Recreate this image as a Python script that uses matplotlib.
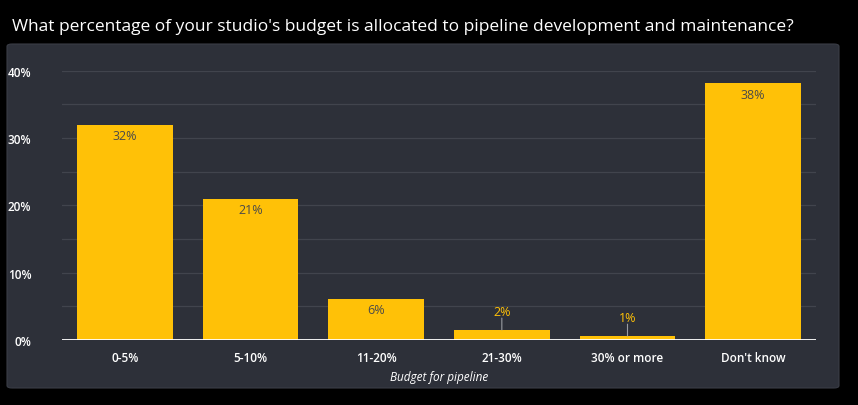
import numpy as np
import matplotlib.pyplot as plt
from matplotlib.patches import FancyBboxPatch

categories = ["0-5%", "5-10%", "11-20%", "21-30%", "30% or more", "Don't know"]
values = [31.9, 21.0, 6.1, 1.5, 0.6, 38.1]
labels = ["32%", "21%", "6%", "2%", "1%", "38%"]
yticks = [0, 10, 20, 30, 40]

W, H = 858, 406
fig = plt.figure(figsize=(W / 100, H / 100), dpi=100, facecolor="black")
plt.rcParams['font.family'] = ['Open Sans', 'DejaVu Sans']

# dark panel behind the chart
panel = FancyBboxPatch((7 / W, (H - 389) / H), 832 / W, 344 / H,
                       boxstyle="round,pad=0,rounding_size=0.006",
                       transform=fig.transFigure, facecolor="#2d3039",
                       edgecolor="#3a3d46", linewidth=0.8, zorder=-10)
fig.patches.append(panel)

fig.text(12 / W, 1 - 27 / H, "What percentage of your studio's budget is allocated to pipeline development and maintenance?",
         color="white", fontsize=12.5, va="center", ha="left")

ax = fig.add_axes([62 / W, (H - 341) / H, 754 / W, (341 - 71.7) / H])
ax.set_facecolor("none")
x = np.arange(len(categories))
ax.bar(x, values, width=0.76, color="#ffc107", zorder=3)
ax.set_xlim(-0.5, len(categories) - 0.5)
ax.set_ylim(0, 40)

for y in np.arange(5, 41, 5):
    ax.axhline(y, color="#41444d", linewidth=0.9, zorder=1)
ax.axhline(0, color="white", linewidth=1.3, zorder=4)

for xi, v, lab in zip(x, values, labels):
    if v > 4:
        ax.annotate(lab, (xi, v), xytext=(0, -3), textcoords="offset points",
                    ha="center", va="top", color="#4a4a4a", fontsize=9)
    else:
        ax.annotate(lab, (xi, v), xytext=(0, 8.5), textcoords="offset points",
                    ha="center", va="bottom", color="#ffc107", fontsize=9)
        ax.annotate("", (xi, v), xytext=(0, 8.5), textcoords="offset points",
                    arrowprops=dict(arrowstyle="-", color="#9a9ca2", lw=0.8,
                                    shrinkA=0, shrinkB=0))

ax.set_xticks(x)
ax.set_xticklabels(categories, color="white", fontsize=8.5, fontweight="semibold")
ax.set_yticks(yticks)
ax.set_yticklabels([f"{t}%" for t in yticks], color="white", fontsize=8.5, fontweight="semibold")
ax.tick_params(length=0, pad=8)
ax.tick_params(axis="y", pad=22)
for s in ax.spines.values():
    s.set_visible(False)
ax.set_xlabel("Budget for pipeline", color="white", fontsize=8.5, style="italic", labelpad=4)

fig.savefig("out.png", dpi=100, facecolor="black")
